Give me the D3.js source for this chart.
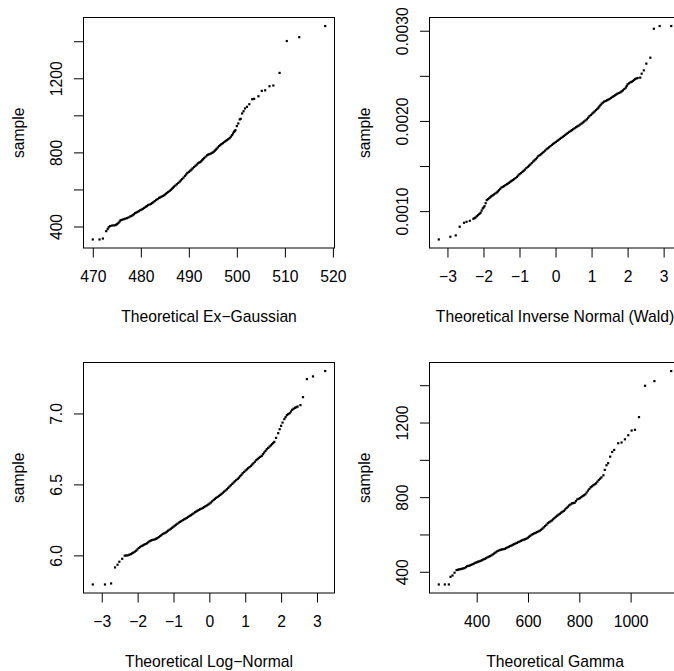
<!DOCTYPE html>
<html>
<head>
<meta charset="utf-8">
<script src="https://cdn.jsdelivr.net/npm/d3@7"></script>
<style>
  body { margin: 0; background: #fff; }
  svg { display: block; }
  text { font-family: "Liberation Sans", Arial, Helvetica, sans-serif; fill: #000; }
</style>
</head>
<body>
<svg id="chart" width="674" height="671"></svg>
<script>
// Sorted response-time sample against Ex-Gaussian quantiles
const exgTheo = [470.0,471.4,472.1,472.8,473.1,473.3,473.6,
  474.0,474.35,474.7,474.9,475.1,475.35,475.6,475.8,476.1,476.4,
  476.75,477.1,477.45,477.8,478.05,478.3,478.55,478.8,479.05,479.3,
  479.6,479.9,480.15,480.4,480.7,481.0,481.25,481.5,481.8,482.1,
  482.35,482.6,482.9,483.2,483.5,483.8,484.05,484.3,484.6,484.9,
  485.15,485.4,485.7,486.0,486.25,486.5,486.7,486.9,487.2,487.5,
  487.8,488.1,488.35,488.6,488.9,489.2,489.45,489.7,490.0,490.3,
  490.55,490.8,491.1,491.4,491.65,491.9,492.15,492.4,492.6,492.8,
  493.0,493.2,493.5,493.8,494.05,494.3,494.6,494.9,495.15,495.4,
  495.6,495.8,496.05,496.3,496.55,496.8,497.1,497.4,497.65,497.9,
  498.2,498.5,498.75,499.0,499.2,499.4,499.55,499.7,
  500.0,500.3,500.6,500.8,501.1,501.4,501.7,502.1,502.6,503.2,503.6,504.5,505.2,505.9,506.8,507.6,508.9,510.4,513.0,518.4];
const exgSample = [330,330,335,375,386,396,402,
  405,406,407,410,414,420,427,434,436,439,
  442,445,449,454,457,461,466,472,475,479,
  483,488,491,495,500,506,510,515,518,522,
  526,531,537,543,548,554,557,561,565,569,
  575,581,586,592,598,604,609,615,621,628,
  635,642,649,656,664,673,681,689,695,701,
  707,714,721,728,734,741,745,748,753,759,
  764,770,777,784,788,791,794,798,803,809,
  814,820,827,834,839,845,850,856,861,866,
  871,877,885,893,902,911,915,920,
  942,956,978,981,1010,1022,1037,1046,1060,1087,1089,1103,1132,1135,1157,1161,1229,1401,1422,1482];

// Inverse response times against standard normal quantiles (Wald)
const waldTheo = [-3.24,-2.92,-2.77,-2.66,-2.54,-2.47,-2.38,-2.28,-2.25,-2.22,
  -2.185,-2.15,-2.115,-2.08,-2.05,-2.02,-1.995,-1.97,-1.94,-1.91,
  -1.875,-1.84,-1.81,-1.78,-1.745,-1.71,-1.67,-1.63,-1.60,-1.57,
  -1.535,-1.50,-1.465,-1.43,-1.39,-1.35,-1.32,-1.29,-1.255,-1.22,
  -1.185,-1.15,-1.11,-1.07,-1.035,-1.00,-0.96,-0.92,-0.885,-0.85,
  -0.81,-0.77,-0.735,-0.70,-0.66,-0.62,-0.585,-0.55,-0.515,-0.48,
  -0.44,-0.40,-0.365,-0.33,-0.29,-0.25,-0.215,-0.18,-0.14,-0.10,
  -0.065,-0.03,0.01,0.05,0.085,0.12,0.16,0.20,0.235,0.27,
  0.305,0.34,0.38,0.42,0.455,0.49,0.53,0.57,0.605,0.64,
  0.68,0.72,0.755,0.79,0.83,0.87,0.905,0.94,0.98,1.02,
  1.055,1.09,1.125,1.16,1.19,1.22,1.25,1.28,1.315,1.35,
  1.39,1.43,1.465,1.50,1.54,1.58,1.615,1.65,1.685,1.72,
  1.76,1.80,1.835,1.87,1.91,1.95,1.975,2.00,2.04,2.08,
  2.115,2.15,2.18,2.21,2.245,2.28,2.35,2.39,2.45,2.52,
  2.63,2.73,2.89,3.21];
const waldSample = [0.000686,0.000716,0.000731,0.000827,0.000871,0.000882,0.000893,0.000915,0.000922,0.000930,
  0.000943,0.000956,0.000969,0.000982,0.001006,0.001030,0.001042,0.001055,0.001088,0.001122,
  0.001133,0.001144,0.001155,0.001166,0.001175,0.001185,0.001196,0.001207,0.001219,0.001232,
  0.001247,0.001262,0.001269,0.001277,0.001288,0.001299,0.001306,0.001314,0.001325,0.001336,
  0.001345,0.001354,0.001367,0.001380,0.001395,0.001410,0.001422,0.001435,0.001448,0.001461,
  0.001476,0.001491,0.001504,0.001517,0.001533,0.001550,0.001563,0.001576,0.001592,0.001609,
  0.001620,0.001631,0.001644,0.001657,0.001671,0.001686,0.001697,0.001708,0.001721,0.001734,
  0.001745,0.001756,0.001767,0.001779,0.001790,0.001801,0.001812,0.001823,0.001834,0.001845,
  0.001856,0.001867,0.001878,0.001889,0.001898,0.001908,0.001919,0.001930,0.001939,0.001948,
  0.001959,0.001970,0.001981,0.001993,0.002005,0.002018,0.002035,0.002052,0.002066,0.002081,
  0.002094,0.002107,0.002120,0.002133,0.002147,0.002162,0.002177,0.002192,0.002203,0.002214,
  0.002221,0.002229,0.002236,0.002244,0.002255,0.002266,0.002275,0.002284,0.002293,0.002303,
  0.002310,0.002317,0.002328,0.002339,0.002354,0.002369,0.002387,0.002406,0.002417,0.002428,
  0.002435,0.002443,0.002454,0.002465,0.002470,0.002476,0.002480,0.002524,0.002561,0.002635,
  0.002701,0.003022,0.003052,0.003052];

// Log response times against standard normal quantiles
const lnormTheo = [-3.25,-2.91,-2.74,-2.63,-2.56,-2.51,-2.43,-2.36,-2.32,-2.28,
  -2.235,-2.19,-2.155,-2.12,-2.08,-2.04,-2.005,-1.97,-1.93,-1.89,
  -1.855,-1.82,-1.78,-1.74,-1.705,-1.67,-1.635,-1.60,-1.56,-1.52,
  -1.485,-1.45,-1.41,-1.37,-1.335,-1.30,-1.26,-1.22,-1.185,-1.15,
  -1.11,-1.07,-1.035,-1.00,-0.965,-0.93,-0.89,-0.85,-0.815,-0.78,
  -0.74,-0.70,-0.665,-0.63,-0.59,-0.55,-0.515,-0.48,-0.44,-0.40,
  -0.365,-0.33,-0.295,-0.26,-0.22,-0.18,-0.145,-0.11,-0.07,-0.03,
  0.005,0.04,0.08,0.12,0.155,0.19,0.23,0.27,0.305,0.34,
  0.375,0.41,0.45,0.49,0.525,0.56,0.60,0.64,0.675,0.71,
  0.75,0.79,0.825,0.86,0.895,0.93,0.97,1.01,1.045,1.08,
  1.12,1.16,1.195,1.23,1.27,1.31,1.345,1.38,1.42,1.46,
  1.495,1.53,1.565,1.60,1.64,1.68,1.715,1.75,1.78,1.81,
  1.86,1.92,1.96,2.00,2.04,2.09,2.125,2.16,2.20,2.24,
  2.275,2.31,2.35,2.39,2.425,2.46,2.54,2.61,2.72,2.89,
  3.23];
const lnormSample = [5.795,5.795,5.802,5.915,5.934,5.955,5.976,5.998,5.999,6.000,
  6.004,6.009,6.014,6.019,6.026,6.033,6.042,6.052,6.059,6.066,
  6.070,6.075,6.080,6.085,6.092,6.099,6.104,6.108,6.110,6.113,
  6.117,6.122,6.129,6.136,6.143,6.151,6.155,6.160,6.167,6.174,
  6.181,6.188,6.195,6.202,6.209,6.216,6.223,6.231,6.236,6.242,
  6.248,6.254,6.259,6.264,6.271,6.278,6.283,6.289,6.296,6.304,
  6.309,6.315,6.320,6.325,6.329,6.334,6.340,6.346,6.352,6.358,
  6.365,6.372,6.381,6.391,6.398,6.405,6.412,6.419,6.426,6.433,
  6.441,6.449,6.457,6.466,6.475,6.485,6.494,6.504,6.513,6.522,
  6.530,6.539,6.548,6.558,6.568,6.579,6.588,6.598,6.606,6.614,
  6.622,6.631,6.640,6.649,6.660,6.671,6.679,6.687,6.694,6.701,
  6.713,6.725,6.736,6.748,6.757,6.767,6.775,6.784,6.792,6.800,
  6.828,6.861,6.889,6.913,6.936,6.960,6.974,6.988,6.995,7.002,
  7.014,7.026,7.033,7.040,7.044,7.049,7.059,7.115,7.242,7.261,
  7.299];

// Sorted response-time sample against Gamma quantiles
const gammaTheo = [252.3,275.8,291.5,298.0,305.9,313.7,321.6,326.8,332.0,337.2,
  342.5,347.7,352.9,358.2,363.4,368.6,373.9,379.1,384.3,389.5,
  394.8,400.0,405.2,410.5,415.7,420.9,426.1,431.4,436.6,441.8,
  447.1,452.3,457.5,462.8,468.0,473.2,478.4,483.7,488.9,494.1,
  499.3,504.5,509.8,515.0,520.3,525.5,530.7,535.9,541.2,546.4,
  551.6,556.8,562.1,567.3,572.5,577.7,583.0,588.2,593.5,598.7,
  603.9,609.1,614.4,619.6,624.8,630.0,635.3,640.5,645.8,651.0,
  656.2,661.4,666.7,671.9,677.1,682.3,687.6,692.8,698.0,703.2,
  708.5,713.7,719.0,724.2,729.4,734.6,739.9,745.1,750.3,755.5,
  760.8,766.0,771.2,776.5,781.7,786.9,792.2,797.4,802.6,807.8,
  813.1,818.3,823.5,828.7,834.0,839.2,844.5,849.7,854.9,860.1,
  865.4,870.6,875.8,881.0,886.3,894.1,899.4,905.9,912.4,920.3,
  928.1,936.0,951.6,964.7,977.8,990.9,1003.9,1017.0,1032.7,1056.2,
  1092.8,1158.2];
const gammaSample = [332,332,332,373,380,395,409,411,413,414,
  416,418,420,425,430,432,434,437,441,444,
  448,451,454,456,459,462,466,469,473,477,
  481,484,488,493,498,503,509,512,516,518,
  520,521,523,527,531,534,538,541,545,548,
  552,555,559,562,566,569,572,574,577,582,
  588,593,599,602,606,609,613,616,620,625,
  631,638,645,652,660,665,670,675,681,688,
  695,700,706,711,717,722,727,734,742,749,
  756,761,767,768,770,779,788,791,795,800,
  806,810,815,825,835,844,853,858,864,869,
  874,883,892,899,906,917,946,971,982,1017,
  1042,1053,1089,1093,1110,1132,1157,1161,1229,1397,
  1422,1476];

// Axis ticks and the subset of ticks that carry a label
const exgXTicks = [470, 480, 490, 500, 510, 520];
const exgYTicks = [400, 600, 800, 1000, 1200, 1400];
const exgYLabels = [400, 800, 1200];
const waldXTicks = [-3, -2, -1, 0, 1, 2, 3];
const waldYTicks = [0.0010, 0.0015, 0.0020, 0.0025, 0.0030];
const waldYLabels = [0.0010, 0.0020, 0.0030];
const lnormXTicks = [-3, -2, -1, 0, 1, 2, 3];
const lnormYTicks = [6.0, 6.5, 7.0];
const lnormYLabels = [6.0, 6.5, 7.0];
const gammaXTicks = [400, 600, 800, 1000];
const gammaYTicks = [400, 600, 800, 1000, 1200, 1400];
const gammaYLabels = [400, 800, 1200];

const xTitles = ["Theoretical Ex\u2212Gaussian", "Theoretical Inverse Normal (Wald)",
                 "Theoretical Log\u2212Normal", "Theoretical Gamma"];
const yTitle = "sample";

const panels = [
  { x: exgTheo, y: exgSample, xTicks: exgXTicks, yTicks: exgYTicks, yLabels: exgYLabels,
    xFmt: d3.format("d"), yFmt: d3.format("d"), title: xTitles[0], col: 0, row: 0 },
  { x: waldTheo, y: waldSample, xTicks: waldXTicks, yTicks: waldYTicks, yLabels: waldYLabels,
    xFmt: d3.format("d"), yFmt: d3.format(".4f"), title: xTitles[1], col: 1, row: 0 },
  { x: lnormTheo, y: lnormSample, xTicks: lnormXTicks, yTicks: lnormYTicks, yLabels: lnormYLabels,
    xFmt: d3.format("d"), yFmt: d3.format(".1f"), title: xTitles[2], col: 0, row: 1 },
  { x: gammaTheo, y: gammaSample, xTicks: gammaXTicks, yTicks: gammaYTicks, yLabels: gammaYLabels,
    xFmt: d3.format("d"), yFmt: d3.format("d"), title: xTitles[3], col: 1, row: 1 }
];

// Page layout: 2 x 2 grid of plot regions
const colLeft = [83.5, 429.5];
const rowTop = [17.5, 362.5];
const plotW = 251, plotH = 230.5;
const tickLen = 9.5;
const fontSize = 15.7;
const fontFamily = "Liberation Sans, Arial, sans-serif";

const svg = d3.select("#chart");
svg.append("rect").attr("width", 674).attr("height", 671).attr("fill", "#fff");

// base-R style range: data extent widened by 4% on each side
function padded(values) {
  const [lo, hi] = d3.extent(values);
  const r = hi - lo;
  return [lo - 0.04 * r, hi + 0.04 * r];
}

panels.forEach(p => {
  const left = colLeft[p.col], top = rowTop[p.row];
  const bottom = top + plotH;
  const x = d3.scaleLinear().domain(padded(p.x)).range([left, left + plotW]);
  const y = d3.scaleLinear().domain(padded(p.y)).range([bottom, top]);
  const g = svg.append("g");

  // sample points
  g.append("g").selectAll("rect")
    .data(d3.zip(p.x, p.y))
    .join("rect")
    .attr("x", d => x(d[0]) - 1.1)
    .attr("y", d => y(d[1]) - 1.1)
    .attr("width", 2.2)
    .attr("height", 2.2)
    .attr("fill", "#000");

  // x axis
  const xa = g.append("g")
    .attr("transform", `translate(0,${bottom})`)
    .call(d3.axisBottom(x).tickValues(p.xTicks).tickSize(tickLen).tickFormat(p.xFmt));
  xa.select(".domain").remove();
  xa.selectAll(".tick line").attr("stroke", "#000");
  xa.selectAll(".tick text")
    .attr("y", 34).attr("dy", null)
    .attr("font-size", fontSize)
    .attr("font-family", fontFamily)
    .attr("fill", "#000");

  // y axis with rotated labels; crowded ticks stay unlabelled
  const ya = g.append("g")
    .attr("transform", `translate(${left},0)`)
    .call(d3.axisLeft(y).tickValues(p.yTicks).tickSize(tickLen)
      .tickFormat(d => p.yLabels.some(v => Math.abs(v - d) < 1e-9) ? p.yFmt(d) : ""));
  ya.select(".domain").remove();
  ya.selectAll(".tick line").attr("stroke", "#000");
  ya.selectAll(".tick text")
    .attr("x", 0).attr("y", 0).attr("dy", null)
    .attr("transform", "translate(-21.5,0) rotate(-90)")
    .attr("text-anchor", "middle")
    .attr("font-size", fontSize)
    .attr("font-family", fontFamily)
    .attr("fill", "#000");

  // plot box
  g.append("rect")
    .attr("x", left).attr("y", top)
    .attr("width", plotW).attr("height", plotH)
    .attr("fill", "none").attr("stroke", "#000").attr("stroke-width", 1);

  // axis titles
  g.append("text")
    .attr("x", left + plotW / 2).attr("y", bottom + 74)
    .attr("text-anchor", "middle")
    .attr("font-size", fontSize)
    .text(p.title);
  g.append("text")
    .attr("transform", `translate(${left - 60},${top + plotH / 2}) rotate(-90)`)
    .attr("text-anchor", "middle")
    .attr("font-size", fontSize)
    .text(yTitle);
});
</script>
</body>
</html>
